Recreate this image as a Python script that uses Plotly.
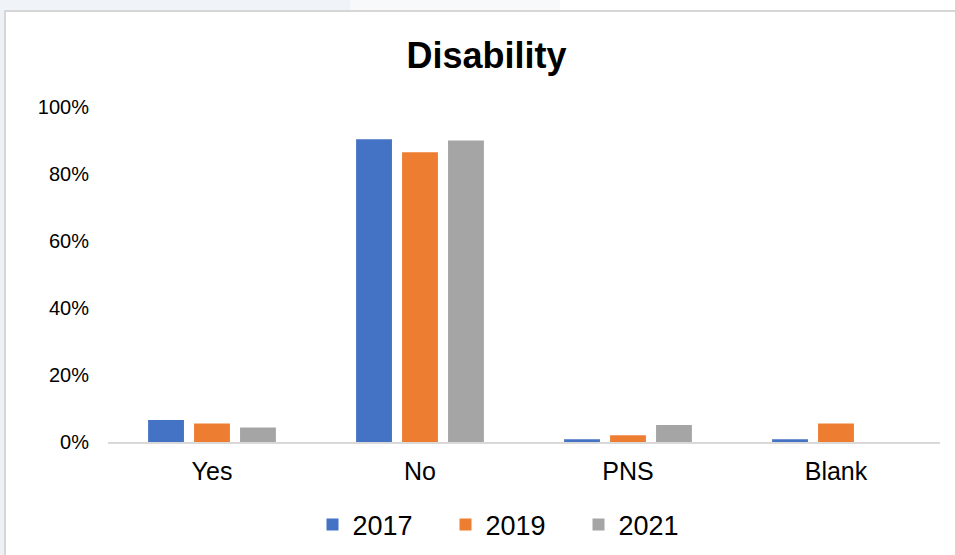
import plotly.graph_objects as go

categories = ["Yes", "No", "PNS", "Blank"]
series_names = ["2017", "2019", "2021"]
values_2017 = [0.066, 0.904, 0.008, 0.008]
values_2019 = [0.055, 0.865, 0.020, 0.055]
values_2021 = [0.043, 0.900, 0.051, 0.0]
colors = ["#4472C4", "#ED7D31", "#A5A5A5"]
y_tickvals = [0, 0.2, 0.4, 0.6, 0.8, 1.0]
y_ticktext = ["0%", "20%", "40%", "60%", "80%", "100%"]

W, H = 955, 555
L, R, T, B = 108, 15, 107, 113
PW, PH = W - L - R, H - T - B

def px(x):
    return (x - L) / PW

def py(y):
    return 1 - (y - T) / PH

fig = go.Figure()
for name, vals, col in zip(series_names, [values_2017, values_2019, values_2021], colors):
    fig.add_trace(go.Bar(x=categories, y=vals, name=name, marker=dict(color=col, line=dict(width=0))))

font = "Liberation Sans, Arial, sans-serif"
fig.update_layout(
    width=W, height=H,
    margin=dict(l=L, r=R, t=T, b=B, pad=0),
    paper_bgcolor="white", plot_bgcolor="white",
    barmode="group", bargap=0.337, bargroupgap=0.22,
    title=dict(text="<b>Disability</b>", x=486.5 / W, xref="container", xanchor="center",
               y=1 - 55 / H, yref="container", yanchor="middle",
               font=dict(family=font, size=36, color="#000000")),
    font=dict(family=font, color="#000000"),
    xaxis=dict(showgrid=False, showline=True, linecolor="#D9D9D9", linewidth=2,
               ticks="", tickfont=dict(size=25, color="#000000"), ticklabelstandoff=6,
               zeroline=False),
    yaxis=dict(range=[0, 1], tickvals=y_tickvals, ticktext=y_ticktext, showgrid=False,
               showline=False, zeroline=False, ticks="",
               tickfont=dict(size=20, color="#000000"), ticklabelstandoff=18),
    legend=dict(orientation="h", x=512 / W, xref="container", xanchor="center",
                y=1 - 525 / H, yref="container", yanchor="middle",
                font=dict(size=27, color="#000000"), bgcolor="rgba(0,0,0,0)",
                entrywidth=88, entrywidthmode="pixels"),
    showlegend=True,
)

shapes = [
    dict(type="rect", xref="paper", yref="paper", x0=px(0), x1=px(4), y0=py(H + 5), y1=py(-5),
         fillcolor="#EEF1F6", line=dict(width=0), layer="below"),
    dict(type="rect", xref="paper", yref="paper", x0=px(0), x1=px(350), y0=py(10), y1=py(-5),
         fillcolor="#F0F3F7", line=dict(width=0), layer="below"),
    dict(type="rect", xref="paper", yref="paper", x0=px(350), x1=px(560), y0=py(10), y1=py(-5),
         fillcolor="#F7F9FB", line=dict(width=0), layer="below"),
    dict(type="rect", xref="paper", yref="paper", x0=px(5), x1=px(W + 10), y0=py(H + 10), y1=py(11),
         fillcolor="rgba(0,0,0,0)", line=dict(color="#D6D6D6", width=2), layer="below"),
]
fig.update_layout(shapes=shapes)

fig.write_html("out.html")
